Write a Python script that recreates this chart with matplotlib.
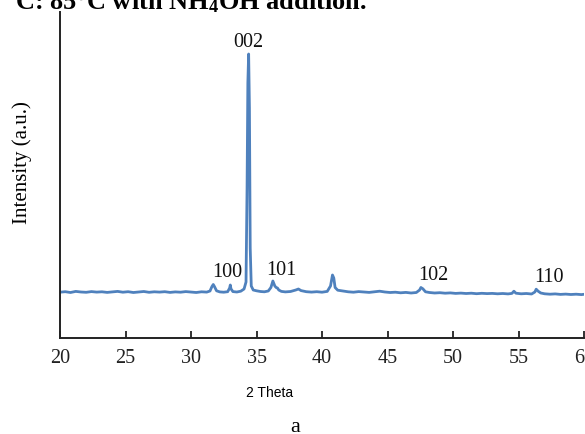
import matplotlib.pyplot as plt

# XRD pattern (intensity in arbitrary units)
two_theta = [
    20.0, 20.4, 20.8, 21.2, 21.6, 22.0, 22.4, 22.8, 23.2, 23.6,
    24.0, 24.4, 24.8, 25.2, 25.6, 26.0, 26.4, 26.8, 27.2, 27.6,
    28.0, 28.4, 28.8, 29.2, 29.6, 30.0, 30.4, 30.8, 31.2, 31.45,
    31.6, 31.7, 31.8, 31.95, 32.2, 32.5, 32.8, 32.95, 33.0, 33.05,
    33.2, 33.5, 33.8, 34.05, 34.2, 34.28, 34.34, 34.4, 34.46, 34.52,
    34.6, 34.75, 35.0, 35.3, 35.6, 35.9, 36.1, 36.25, 36.4, 36.5,
    36.6, 36.7, 36.9, 37.2, 37.6, 38.0, 38.2, 38.4, 38.8, 39.2,
    39.6, 40.0, 40.4, 40.65, 40.8, 40.9, 41.0, 41.2, 41.6, 42.0,
    42.4, 42.8, 43.2, 43.6, 44.0, 44.4, 44.8, 45.2, 45.6, 46.0,
    46.4, 46.8, 47.2, 47.45, 47.55, 47.7, 47.9, 48.2, 48.6, 49.0,
    49.4, 49.8, 50.2, 50.6, 51.0, 51.4, 51.8, 52.2, 52.6, 53.0,
    53.4, 53.8, 54.2, 54.5, 54.65, 54.8, 55.2, 55.6, 56.0, 56.25,
    56.35, 56.5, 56.7, 57.0, 57.4, 57.8, 58.2, 58.6, 59.0, 59.4,
    59.8, 60.0,
]
intensity = [
    458, 463, 455, 466, 460, 457, 464, 459, 462, 456,
    461, 466, 458, 463, 455, 460, 465, 457, 462, 459,
    463, 456, 461, 458, 464, 460, 455, 462, 459, 470,
    515, 535, 512, 472, 461, 458, 463, 500, 530, 492,
    464, 460, 468, 490, 560, 1500, 2550, 2840, 2300, 900,
    520, 480, 472, 465, 462, 470, 505, 570, 520, 505,
    500, 480, 466, 461, 465, 480, 490, 474, 463, 459,
    463, 458, 466, 520, 630, 600, 505, 478, 470, 462,
    458, 464, 460, 456, 462, 468, 460, 455, 458, 452,
    456, 450, 455, 480, 505, 492, 462, 455, 450, 453,
    448, 451, 446, 449, 445, 448, 443, 447, 444, 446,
    442, 445, 441, 446, 468, 448, 442, 445, 440, 460,
    488, 468, 450, 442, 438, 441, 436, 439, 435, 438,
    434, 437,
]

# peak labels (hkl) and where they sit
peak_labels = ["100", "002", "101", "102", "110"]
label_x = [32.8, 34.4, 36.9, 48.5, 57.3]
label_y = [660, 2960, 680, 630, 610]

x_ticks = [20, 25, 30, 35, 40, 45, 50, 55, 60]

W, H = 585, 435
fig = plt.figure(figsize=(W / 100, H / 100), dpi=100)
ax = fig.add_axes([60 / W, (H - 339) / H, (584 - 60) / W, (339 - 13) / H])

ax.plot(two_theta, intensity, color="#4f81bd", lw=2)

for lab, xx, yy in zip(peak_labels, label_x, label_y):
    ax.text(xx, yy, lab, ha="center", va="center", fontsize=14.5,
            family="Liberation Serif", color="#111111")

ax.set_xlim(20, 60)
ax.set_ylim(0, 3260)
ax.set_xticks(x_ticks)
ax.set_yticks([])
for lbl in ax.get_xticklabels():
    lbl.set_family("Liberation Serif")
ax.tick_params(axis="x", direction="in", length=5, width=1.3,
               labelsize=14.5, pad=7, colors="#222222")
for s in ["top", "right"]:
    ax.spines[s].set_visible(False)
for s in ["left", "bottom"]:
    ax.spines[s].set_linewidth(1.4)
    ax.spines[s].set_color("#222222")
ax.patch.set_alpha(0)

fig.text(22 / W, 1 - 163 / H, "Intensity (a.u.)", rotation=90,
         ha="center", va="center", fontsize=15, family="Liberation Serif")
fig.text(270 / W, 1 - 393 / H, "2 Theta", ha="center", va="center",
         fontsize=10, family="Liberation Sans")
fig.text(295 / W, 1 - 428 / H, "a", ha="center", va="center",
         fontsize=16, family="Liberation Serif")

plt.rcParams["mathtext.default"] = "regular"
fig.text(15 / W, 1 - 9 / H, "C: 85°C with NH$_4$OH addition.",
         ha="left", va="baseline", fontsize=19, fontweight="bold",
         family="Liberation Serif")

fig.savefig("out.png", dpi=100)
